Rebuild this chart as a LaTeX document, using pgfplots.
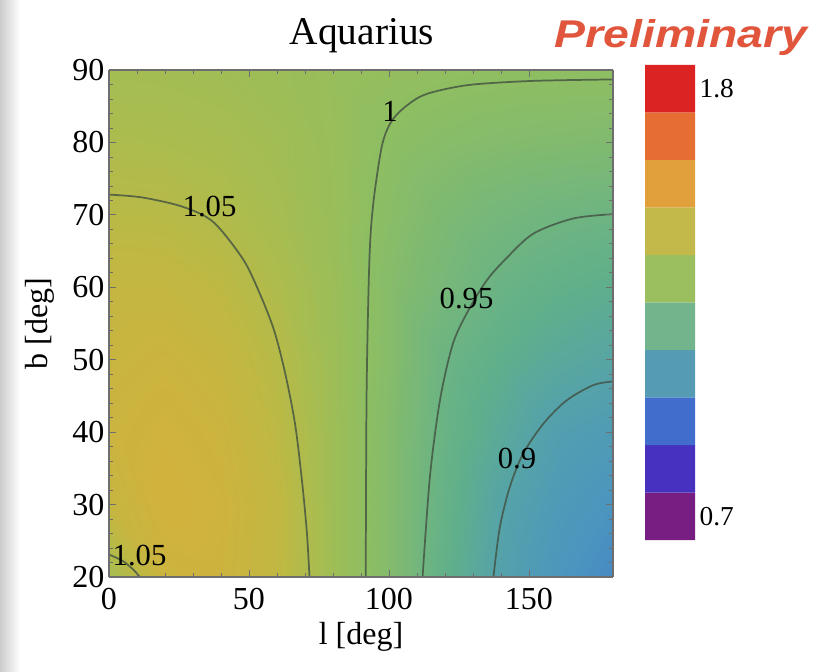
\documentclass[border=0pt]{standalone}
\usepackage{pgfplots}
\pgfplotsset{compat=1.18}
\usepackage{fontspec}
\setmainfont{Liberation Serif}
\newfontfamily\prelimfont{Liberation Sans}
\definecolor{cb1}{RGB}{120,30,130}
\definecolor{cb2}{RGB}{70,50,190}
\definecolor{cb3}{RGB}{65,110,205}
\definecolor{cb4}{RGB}{85,155,180}
\definecolor{cb5}{RGB}{115,180,140}
\definecolor{cb6}{RGB}{155,190,95}
\definecolor{cb7}{RGB}{195,185,75}
\definecolor{cb8}{RGB}{225,160,60}
\definecolor{cb9}{RGB}{230,110,50}
\definecolor{cb10}{RGB}{220,35,35}
\definecolor{prelim}{RGB}{225,85,60}
\definecolor{contourc}{RGB}{65,80,65}
\definecolor{framec}{RGB}{110,110,110}
\begin{document}
\begin{tikzpicture}[x=1pt,y=1pt]
\useasboundingbox (0,0) rectangle (612,503.25);
\fill[white] (0,0) rectangle (612,503.25);
\shade[left color=black!20, right color=white] (0,0) rectangle (15,503.25);
\begin{axis}[
  at={(81.75pt,70.5pt)}, anchor=south west,
  scale only axis, width=378pt, height=380.25pt,
  view={0}{90},
  xmin=0, xmax=180, ymin=20, ymax=90,
  colormap={aq}{rgb255(0pt)=(120,30,130) rgb255(50pt)=(70,50,190) rgb255(90pt)=(65,120,205)
    rgb255(120pt)=(75,150,190) rgb255(150pt)=(85,162,170) rgb255(180pt)=(95,175,140)
    rgb255(210pt)=(115,182,125) rgb255(250pt)=(142,190,98) rgb255(280pt)=(165,189,82)
    rgb255(310pt)=(188,185,68) rgb255(350pt)=(212,177,60) rgb255(400pt)=(228,150,58)
    rgb255(450pt)=(220,35,35)},
  point meta min=0.75, point meta max=1.2,
  xtick={0,50,100,150}, minor x tick num=4,
  ytick={20,30,...,90}, minor y tick num=4,
  tick align=inside, major tick length=5pt, minor tick length=2.8pt,
  axis line style={framec, line width=0.8pt},
  every tick/.style={framec, line width=0.6pt},
  tick label style={font=\fontsize{24}{24}\selectfont, black},
  xticklabel style={yshift=-5pt},
  label style={font=\fontsize{24}{24}\selectfont},
  xlabel={l [deg]}, ylabel={b [deg]},
  xlabel style={at={(axis description cs:0.5,-0.118)}, anchor=center},
  ylabel style={at={(axis description cs:-0.137,0.5)}, anchor=center},
  /pgf/number format/assume math mode=true,
  axis on top,
]
\addplot3[surf, shader=interp, mesh/cols=10] table {
0 20 1.030
20 20 1.085
40 20 1.088
60 20 1.066
80 20 1.022
100 20 0.985
120 20 0.935
140 20 0.897
160 20 0.872
180 20 0.858

0 30 1.075
20 30 1.095
40 30 1.090
60 30 1.068
80 30 1.022
100 30 0.985
120 30 0.940
140 30 0.903
160 30 0.880
180 30 0.868

0 40 1.085
20 40 1.092
40 40 1.085
60 40 1.060
80 40 1.022
100 40 0.985
120 40 0.945
140 40 0.917
160 40 0.892
180 40 0.883

0 50 1.080
20 50 1.085
40 50 1.075
60 50 1.053
80 50 1.020
100 50 0.988
120 50 0.949
140 50 0.930
160 50 0.915
180 50 0.906

0 60 1.072
20 60 1.072
40 60 1.062
60 60 1.042
80 60 1.018
100 60 0.988
120 60 0.966
140 60 0.946
160 60 0.935
180 60 0.928

0 70 1.056
20 70 1.054
40 70 1.046
60 70 1.032
80 70 1.015
100 70 0.993
120 70 0.975
140 70 0.963
160 70 0.955
180 70 0.951

0 80 1.040
20 80 1.038
40 80 1.034
60 80 1.026
80 80 1.014
100 80 0.998
120 80 0.990
140 80 0.985
160 80 0.982
180 80 0.980

0 90 1.028
20 90 1.027
40 90 1.024
60 90 1.019
80 90 1.013
100 90 1.008
120 90 1.004
140 90 1.002
160 90 1.001
180 90 1.001
};
% contour lines
\addplot3[contourc, opacity=0.8, line width=1.3pt, smooth, tension=0.5] coordinates {
(0,72.8,1.3) (12,72.4,1.3) (26.5,71.1,1.3) (37.3,69.0,1.3) (48,63.8,1.3) (54,59.0,1.3) (59,54,1.3) (63,48,1.3) (66.5,41,1.3) (69,33,1.3) (70.7,26,1.3) (71.6,20,1.3)};
\addplot3[contourc, opacity=0.8, line width=1.3pt, smooth, tension=0.5] coordinates {
(0,23.1,1.3) (5,22.2,1.3) (9,20.9,1.3) (11,20,1.3)};
\addplot3[contourc, opacity=0.8, line width=1.3pt, smooth, tension=0.5] coordinates {
(91.7,20,1.3) (92.0,45.4,1.3) (93.0,63.8,1.3) (94.4,71.6,1.3) (97.4,79.4,1.3) (100.4,82.6,1.3) (104.5,84.5,1.3) (111,86.3,1.3) (118.2,87.2,1.3) (130,88.0,1.3) (151.5,88.5,1.3) (180,88.7,1.3)};
\addplot3[contourc, opacity=0.8, line width=1.3pt, smooth, tension=0.5] coordinates {
(112,20,1.3) (114.6,33.8,1.3) (118.2,44.4,1.3) (122.9,52.3,1.3) (128.9,57.2,1.3) (135,61.0,1.3) (141.4,63.8,1.3) (151.5,67.4,1.3) (165.8,69.5,1.3) (180,70.1,1.3)};
\addplot3[contourc, opacity=0.8, line width=1.3pt, smooth, tension=0.5] coordinates {
(137.3,20,1.3) (139.6,26.9,1.3) (143.2,32.5,1.3) (148,37.1,1.3) (155.2,41.2,1.3) (163.5,44.4,1.3) (173,46.5,1.3) (180,47.0,1.3)};
\begin{scope}[every node/.style={font=\fontsize{23}{23}\selectfont, inner sep=0pt}]
\node at (axis cs:35.9,71.1,1.3) {1.05};
\node at (axis cs:100.4,84.3,1.3) {1};
\node at (axis cs:127.7,58.4,1.3) {0.95};
\node at (axis cs:145.7,36.3,1.3) {0.9};
\node at (axis cs:10.9,22.9,1.3) {1.05};
\end{scope}
\end{axis}
% colour bar
\begin{axis}[
  at={(483.75pt,98.25pt)}, anchor=south west,
  scale only axis, width=37.5pt, height=356.25pt,
  xmin=0, xmax=1, ymin=0, ymax=10,
  axis line style={draw=none}, xtick=\empty,
  ytick={0.5,9.5}, yticklabels={0.7,1.8},
  yticklabel pos=right, major tick length=0pt,
  tick style={draw=none},
  tick label style={font=\fontsize{20.5}{20.5}\selectfont},
  /pgf/number format/assume math mode=true,
]
\addplot[fill=cb1, draw=none] coordinates {(0,0) (1,0) (1,1) (0,1) (0,0)};
\addplot[fill=cb2, draw=none] coordinates {(0,1) (1,1) (1,2) (0,2) (0,1)};
\addplot[fill=cb3, draw=none] coordinates {(0,2) (1,2) (1,3) (0,3) (0,2)};
\addplot[fill=cb4, draw=none] coordinates {(0,3) (1,3) (1,4) (0,4) (0,3)};
\addplot[fill=cb5, draw=none] coordinates {(0,4) (1,4) (1,5) (0,5) (0,4)};
\addplot[fill=cb6, draw=none] coordinates {(0,5) (1,5) (1,6) (0,6) (0,5)};
\addplot[fill=cb7, draw=none] coordinates {(0,6) (1,6) (1,7) (0,7) (0,6)};
\addplot[fill=cb8, draw=none] coordinates {(0,7) (1,7) (1,8) (0,8) (0,7)};
\addplot[fill=cb9, draw=none] coordinates {(0,8) (1,8) (1,9) (0,9) (0,8)};
\addplot[fill=cb10, draw=none] coordinates {(0,9) (1,9) (1,10) (0,10) (0,9)};
\end{axis}
% title
\node[anchor=base, font=\fontsize{29.5}{29.5}\selectfont] at (271.5,469.5) {Aquarius};
% preliminary stamp
\node[anchor=base, text=prelim, font=\prelimfont\bfseries\itshape\fontsize{29}{29}\selectfont] at (510.75,467.5) {\scalebox{1.2}[1]{Preliminary}};
\end{tikzpicture}
\end{document}
